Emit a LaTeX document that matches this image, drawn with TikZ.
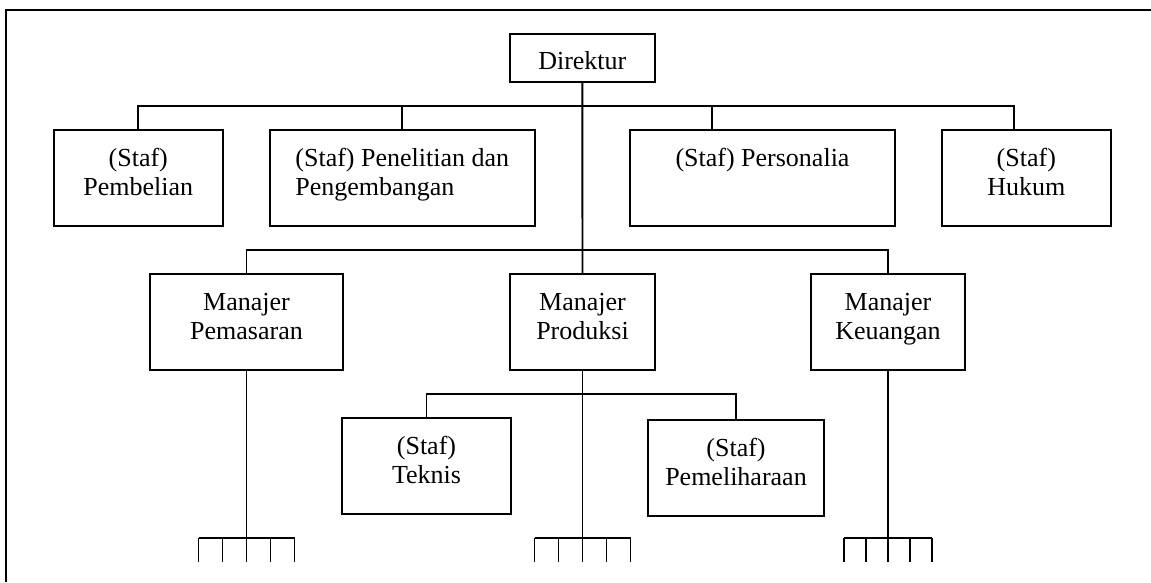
\documentclass[tikz,border=0pt]{standalone}
\usepackage{fontspec}
\setmainfont{Liberation Serif}
\newcommand{\tstrut}{\rule{0pt}{22pt}}
\newcommand{\bstrut}{\rule[-15.6pt]{0pt}{15.6pt}}
\begin{document}
\begin{tikzpicture}[x=1pt,y=-1pt,
  box/.style={draw,line width=1.9pt,inner sep=0pt,align=center,
    font=\fontsize{26}{29}\selectfont},
  conn/.style={line width=1.9pt},
  frame/.style={line width=2.2pt}]
\useasboundingbox (0,0) rectangle (1151,582);
\draw[frame] (6,582) -- (6,10) -- (1151,10);

\node[box,minimum width=145.3pt,minimum height=48pt] (dir) at (582.3,57.7) {\rule{0pt}{24.6pt}Direktur};

\node[box,minimum width=169.3pt,minimum height=95.7pt] (pemb) at (138.3,178) {\tstrut(Staf)\\Pembelian\bstrut};
\node[box,minimum width=265.3pt,minimum height=95.7pt,align=left] (penel) at (402.3,178) {\tstrut(Staf) Penelitian dan\\Pengembangan\bstrut};
\node[box,minimum width=265pt,minimum height=95.7pt] (pers) at (762.5,178) {\tstrut(Staf) Personalia\\\bstrut};
\node[box,minimum width=169.3pt,minimum height=95.7pt] (hukum) at (1026.3,178) {\tstrut(Staf)\\Hukum\bstrut};

\node[box,minimum width=193pt,minimum height=96pt] (mpem) at (246.5,322) {\tstrut Manajer\\Pemasaran\bstrut};
\node[box,minimum width=145pt,minimum height=96pt] (mprod) at (582.5,322) {\tstrut Manajer\\Produksi\bstrut};
\node[box,minimum width=154pt,minimum height=96pt] (mkeu) at (888,322) {\tstrut Manajer\\Keuangan\bstrut};

\node[box,minimum width=169pt,minimum height=96pt] (teknis) at (426.5,466) {\tstrut(Staf)\\Teknis\bstrut};
\node[box,minimum width=176pt,minimum height=96pt] (pemel) at (736,468) {\tstrut(Staf)\\Pemeliharaan\bstrut};

% top staff bus
\coordinate (hkc) at ([xshift=-12.3pt]hukum.north);
\coordinate (psc) at ([xshift=-50.5pt]pers.north);
\draw[conn] (pemb.north) -- (pemb.north |- 0,106) -- (hkc |- 0,106) -- (hkc);
\draw[conn] (penel.north) -- (penel.north |- 0,106);
\draw[conn] (psc) -- (psc |- 0,106);

% main vertical
\draw[conn] (dir.south) -- (mprod.north);

% manager bus
\draw[conn] (mpem.north) -- (mpem.north |- 0,250) -- (mkeu.north |- 0,250) -- (mkeu.north);

% production staff bus
\draw[conn] (teknis.north) -- (teknis.north |- 0,394) -- (pemel.north |- 0,394) -- (pemel.north);

% combs
\foreach \n/\d in {mpem/24, mprod/24, mkeu/22}{
  \draw[conn] (\n.south) -- (\n.south |- 0,561.7);
  \draw[conn] ([xshift=-2*\d pt]\n.south |- 0,537.7) -- ([xshift=2*\d pt]\n.south |- 0,537.7);
  \foreach \k in {-2,-1,1,2}{
    \draw[conn] ([xshift=\k*\d pt]\n.south |- 0,537.7) -- ([xshift=\k*\d pt]\n.south |- 0,561.7);
  }
}
\end{tikzpicture}
\end{document}
